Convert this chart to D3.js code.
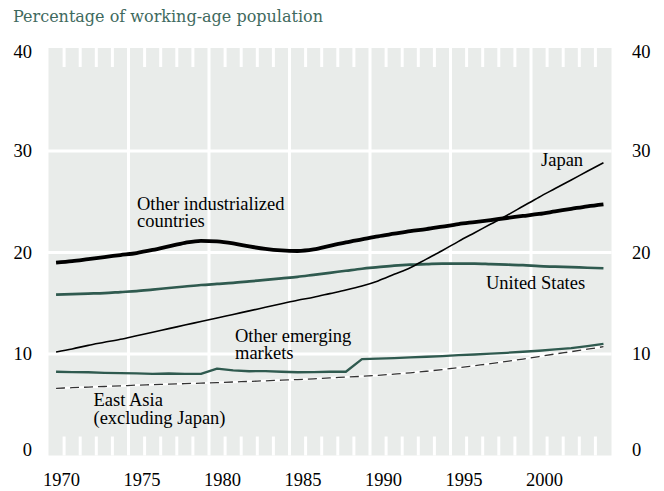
<!DOCTYPE html>
<html>
<head>
<meta charset="utf-8">
<script src="https://cdn.jsdelivr.net/npm/d3@7"></script>
<style>
  body { margin: 0; background: #fff; }
</style>
</head>
<body>
<svg id="canvas" width="664" height="491"></svg>
<script>
const years = d3.range(1970, 2005);

const otherIndustrialized = [19.0, 19.15, 19.35, 19.55, 19.75, 19.95, 20.25, 20.6, 20.95, 21.15,
  21.1, 20.9, 20.6, 20.35, 20.2, 20.15, 20.3, 20.65, 21.0, 21.3,
  21.6, 21.85, 22.1, 22.3, 22.55, 22.8, 23.0, 23.2, 23.4, 23.6,
  23.8, 24.05, 24.3, 24.55, 24.75];

const unitedStates = [15.85, 15.9, 15.95, 16.0, 16.1, 16.2, 16.35, 16.5, 16.65, 16.8,
  16.9, 17.0, 17.15, 17.3, 17.45, 17.6, 17.8, 18.0, 18.2, 18.4,
  18.55, 18.7, 18.8, 18.85, 18.9, 18.9, 18.9, 18.85, 18.8, 18.75,
  18.65, 18.6, 18.55, 18.5, 18.45];

const japan = [10.2, 10.5, 10.85, 11.15, 11.45, 11.8, 12.15, 12.5, 12.85, 13.2,
  13.55, 13.9, 14.25, 14.6, 14.95, 15.3, 15.6, 15.95, 16.3, 16.7,
  17.2, 17.85, 18.5, 19.35, 20.2, 21.1, 21.95, 22.8, 23.65, 24.55,
  25.45, 26.3, 27.15, 28.0, 28.85];

const otherEmerging = [8.25, 8.22, 8.2, 8.15, 8.12, 8.1, 8.05, 8.08, 8.05, 8.05,
  8.55, 8.38, 8.3, 8.32, 8.25, 8.2, 8.22, 8.25, 8.25, 9.5,
  9.55, 9.6, 9.67, 9.73, 9.8, 9.88, 9.95, 10.03, 10.12, 10.22,
  10.32, 10.45, 10.58, 10.78, 11.0];

const eastAsia = [6.62, 6.68, 6.74, 6.8, 6.86, 6.93, 6.98, 7.03, 7.08, 7.13,
  7.18, 7.24, 7.3, 7.36, 7.42, 7.48, 7.55, 7.65, 7.72, 7.8,
  7.9, 8.02, 8.15, 8.3, 8.47, 8.65, 8.85, 9.05, 9.27, 9.5,
  9.75, 10.0, 10.23, 10.47, 10.72];

const yTicks = [0, 10, 20, 30, 40];
const xTickYears = [1970, 1975, 1980, 1985, 1990, 1995, 2000];

const svg = d3.select("#canvas");
const green = "#2f5a4f";
const bg = "#e9ecea";
const serif = "'Liberation Serif', 'Times New Roman', Times, serif";

const x = d3.scaleLinear().domain([1970, 2005]).range([48, 611.5]);
const y = d3.scaleLinear().domain([0, 40]).range([455.5, 49.5]);

// title
svg.append("text")
  .attr("x", 13)
  .attr("y", 22)
  .attr("fill", "#3f6a5e")
  .attr("font-family", "'DejaVu Serif', serif")
  .attr("font-size", 16)
  .text("Percentage of working-age population");

// plot background
svg.append("rect")
  .attr("x", x(1970) + 0.5)
  .attr("y", 48)
  .attr("width", x(2005) - x(1970) - 0.5)
  .attr("height", y(0) - 48)
  .attr("fill", bg);

// white grid
const grid = svg.append("g").attr("stroke", "#fff").attr("stroke-width", 3);
grid.selectAll("line.h")
  .data([10, 20, 30])
  .enter().append("line")
  .attr("x1", x(1970)).attr("x2", x(2005))
  .attr("y1", d => y(d)).attr("y2", d => y(d));
grid.selectAll("line.v")
  .data(xTickYears.slice(1))
  .enter().append("line")
  .attr("x1", d => x(d)).attr("x2", d => x(d))
  .attr("y1", 48).attr("y2", y(0));

// minor year ticks, top and bottom
const minor = years.slice(1).filter(d => d % 5 !== 0);
grid.selectAll("line.tt")
  .data(minor)
  .enter().append("line")
  .attr("x1", d => x(d)).attr("x2", d => x(d))
  .attr("y1", 48).attr("y2", 67);
grid.selectAll("line.tb")
  .data(minor)
  .enter().append("line")
  .attr("x1", d => x(d)).attr("x2", d => x(d))
  .attr("y1", y(0) - 19).attr("y2", y(0));

// y labels on both sides
function labelBaseline(v) {
  return Math.max(58, Math.min(456, y(v) + 6));
}
svg.selectAll("text.yl")
  .data(yTicks)
  .enter().append("text")
  .attr("x", 32)
  .attr("y", labelBaseline)
  .attr("text-anchor", "end")
  .attr("font-family", serif)
  .attr("font-size", 18.5)
  .text(d => d);
svg.selectAll("text.yr")
  .data(yTicks)
  .enter().append("text")
  .attr("x", 632)
  .attr("y", labelBaseline)
  .attr("text-anchor", "start")
  .attr("font-family", serif)
  .attr("font-size", 18.5)
  .text(d => d);

// x labels
svg.selectAll("text.xl")
  .data(xTickYears)
  .enter().append("text")
  .attr("x", d => x(d) + 13.5)
  .attr("y", 486)
  .attr("text-anchor", "middle")
  .attr("font-family", serif)
  .attr("font-size", 18.5)
  .text(d => d);

// lines, plotted at mid-year
function series(vals) {
  return vals.map((v, i) => ({ t: years[i] + 0.5, v: v }));
}
const smooth = d3.line().x(d => x(d.t)).y(d => y(d.v)).curve(d3.curveMonotoneX);
const straight = d3.line().x(d => x(d.t)).y(d => y(d.v));

svg.append("path")
  .attr("d", smooth(series(unitedStates)))
  .attr("fill", "none").attr("stroke", green).attr("stroke-width", 2.7);

svg.append("path")
  .attr("d", smooth(series(otherIndustrialized)))
  .attr("fill", "none").attr("stroke", "#000").attr("stroke-width", 3.8);

svg.append("path")
  .attr("d", straight(series(otherEmerging)))
  .attr("fill", "none").attr("stroke", green).attr("stroke-width", 2.3)
  .attr("stroke-linejoin", "round");

svg.append("path")
  .attr("d", smooth(series(eastAsia)))
  .attr("fill", "none").attr("stroke", "#fff").attr("stroke-width", 2.4);
svg.append("path")
  .attr("d", smooth(series(eastAsia)))
  .attr("fill", "none").attr("stroke", "#333").attr("stroke-width", 1.3)
  .attr("stroke-dasharray", "9,5");

svg.append("path")
  .attr("d", smooth(series(japan)))
  .attr("fill", "none").attr("stroke", "#000").attr("stroke-width", 1.6);

// series labels
const labels = [
  { lines: ["Other industrialized", "countries"], x: 137, y: 209.5 },
  { lines: ["Japan"], x: 541, y: 165.5 },
  { lines: ["United States"], x: 486, y: 288.5 },
  { lines: ["Other emerging", "markets"], x: 235, y: 341.5 },
  { lines: ["East Asia", "(excluding Japan)"], x: 93.5, y: 406 }
];
labels.forEach(l => {
  const t = svg.append("text")
    .attr("x", l.x).attr("y", l.y)
    .attr("font-family", serif)
    .attr("font-size", 18.5);
  l.lines.forEach((s, i) => {
    t.append("tspan").attr("x", l.x).attr("dy", i === 0 ? 0 : 17.5).text(s);
  });
});
</script>
</body>
</html>
